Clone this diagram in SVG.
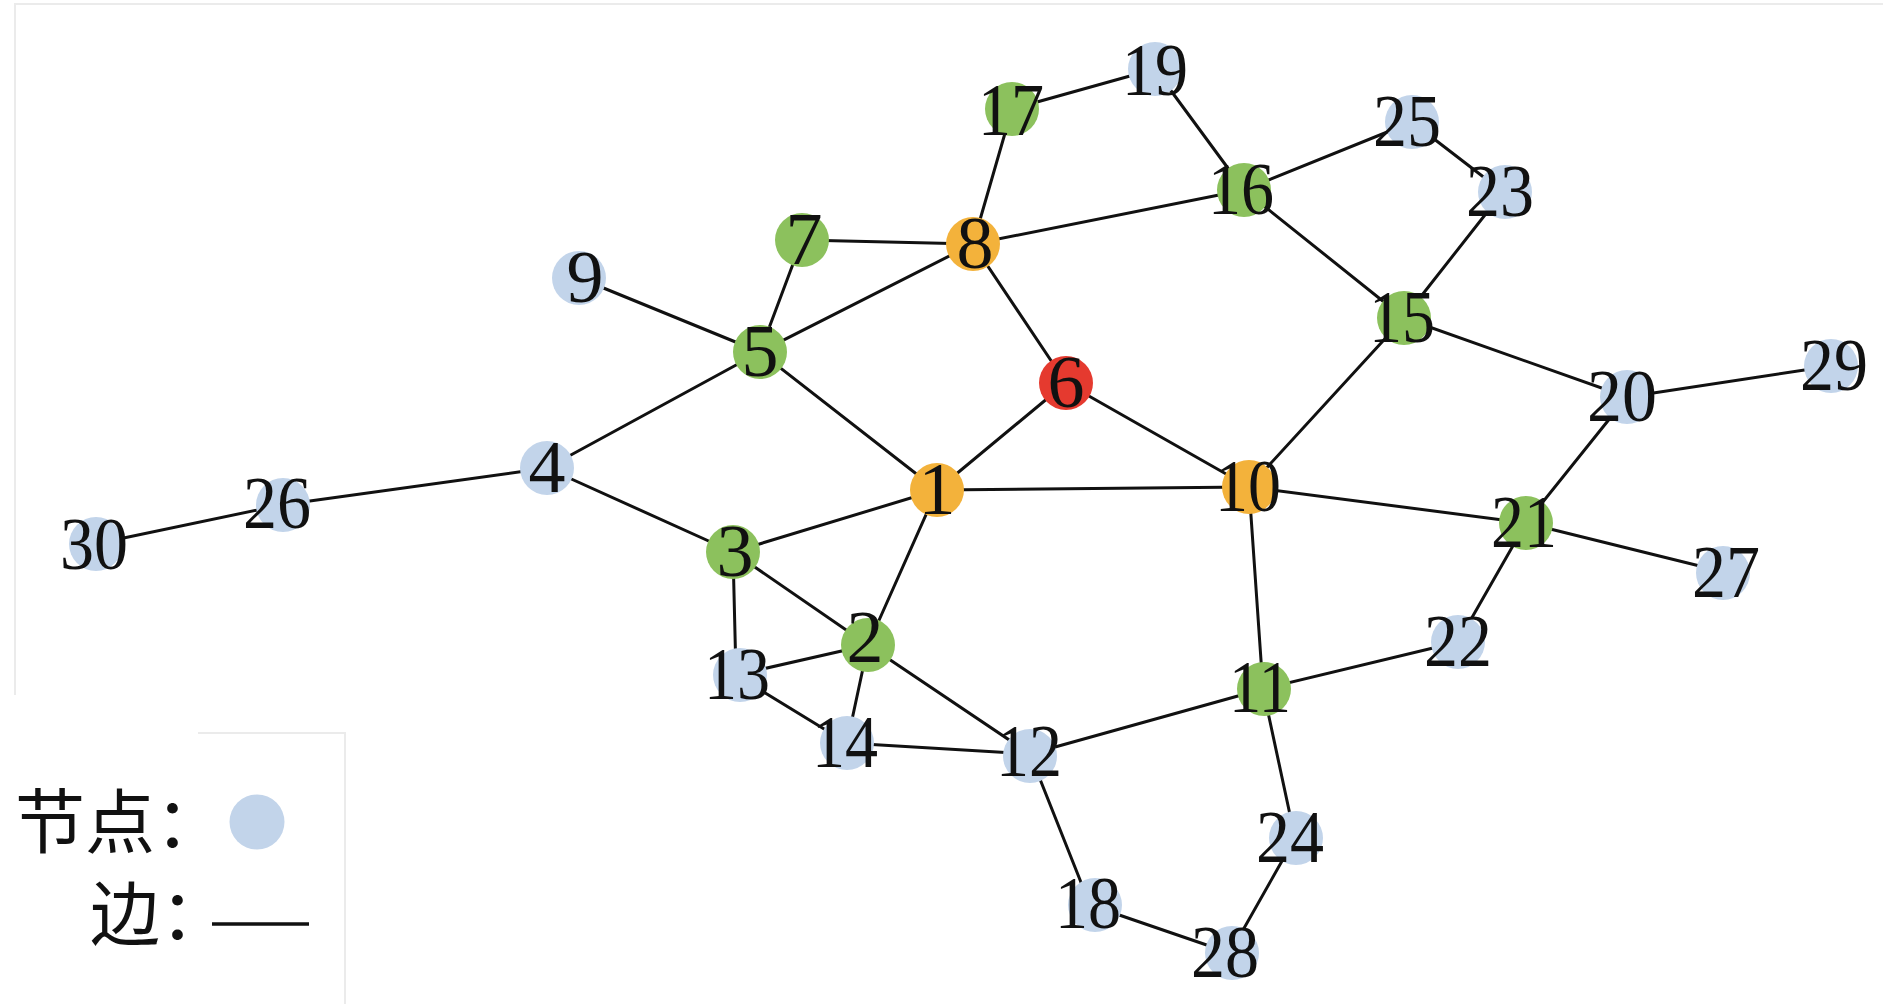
<svg xmlns="http://www.w3.org/2000/svg" width="1883" height="1004" viewBox="0 0 1883 1004">
<style>
.e{stroke:#111;stroke-width:3;fill:none;stroke-linecap:round}
.frame{stroke:#ebebeb;stroke-width:2;fill:none}
.b{fill:#c2d4ea}
.g{fill:#8cc15d}
.o{fill:#f3b23b}
.r{fill:#e53a2f}
.t{font-family:"Liberation Serif","Times New Roman",serif;font-size:74px;fill:#111;text-anchor:middle}
.cn{font-family:"Liberation Serif","Noto Sans CJK SC",serif;font-size:70px;fill:#111}
</style>
<rect x="0" y="0" width="1883" height="1004" fill="#ffffff"/>
<g id="frame">
<path class="frame" d="M15,695 V4 H1883"/>
<path class="frame" d="M198,733 H345 V1004"/>
</g>
<g id="connectors">
<line class="e" x1="1012" y1="109" x2="1155" y2="69"/>
<line class="e" x1="1012" y1="109" x2="973" y2="244"/>
<line class="e" x1="1155" y1="69" x2="1244" y2="190"/>
<line class="e" x1="1244" y1="190" x2="1412" y2="122"/>
<line class="e" x1="1412" y1="122" x2="1503" y2="192"/>
<line class="e" x1="1503" y1="192" x2="1404" y2="318"/>
<line class="e" x1="1244" y1="190" x2="973" y2="244"/>
<line class="e" x1="1244" y1="190" x2="1404" y2="318"/>
<line class="e" x1="802" y1="240" x2="973" y2="244"/>
<line class="e" x1="802" y1="240" x2="760" y2="352"/>
<line class="e" x1="579" y1="278" x2="760" y2="352"/>
<line class="e" x1="973" y1="244" x2="760" y2="352"/>
<line class="e" x1="973" y1="244" x2="1066" y2="383"/>
<line class="e" x1="760" y1="352" x2="547" y2="468"/>
<line class="e" x1="760" y1="352" x2="937" y2="490"/>
<line class="e" x1="1066" y1="383" x2="937" y2="490"/>
<line class="e" x1="1066" y1="383" x2="1249" y2="487"/>
<line class="e" x1="1404" y1="318" x2="1249" y2="487"/>
<line class="e" x1="1404" y1="318" x2="1627" y2="397"/>
<line class="e" x1="1627" y1="397" x2="1831" y2="366"/>
<line class="e" x1="1627" y1="397" x2="1526" y2="523"/>
<line class="e" x1="547" y1="468" x2="281" y2="505"/>
<line class="e" x1="281" y1="505" x2="95" y2="544"/>
<line class="e" x1="547" y1="468" x2="733" y2="552"/>
<line class="e" x1="937" y1="490" x2="1249" y2="487"/>
<line class="e" x1="937" y1="490" x2="733" y2="552"/>
<line class="e" x1="937" y1="490" x2="868" y2="645"/>
<line class="e" x1="1249" y1="487" x2="1526" y2="523"/>
<line class="e" x1="1249" y1="487" x2="1263" y2="689"/>
<line class="e" x1="1526" y1="523" x2="1728" y2="573"/>
<line class="e" x1="1526" y1="523" x2="1458" y2="642"/>
<line class="e" x1="733" y1="552" x2="736" y2="675"/>
<line class="e" x1="733" y1="552" x2="868" y2="645"/>
<line class="e" x1="868" y1="645" x2="736" y2="675"/>
<line class="e" x1="868" y1="645" x2="847" y2="743"/>
<line class="e" x1="868" y1="645" x2="1030" y2="754"/>
<line class="e" x1="736" y1="675" x2="847" y2="743"/>
<line class="e" x1="847" y1="743" x2="1030" y2="754"/>
<line class="e" x1="1030" y1="754" x2="1263" y2="689"/>
<line class="e" x1="1263" y1="689" x2="1458" y2="642"/>
<line class="e" x1="1263" y1="689" x2="1295" y2="838"/>
<line class="e" x1="1030" y1="754" x2="1090" y2="905"/>
<line class="e" x1="1090" y1="905" x2="1230" y2="953"/>
<line class="e" x1="1230" y1="953" x2="1295" y2="838"/>
</g>
<g id="n1"><circle class="o" cx="937" cy="490" r="27"/><text class="t" x="937" y="514">1</text></g>
<g id="n2"><circle class="g" cx="868" cy="645" r="27"/><text class="t" x="865" y="662">2</text></g>
<g id="n3"><circle class="g" cx="733" cy="552" r="27"/><text class="t" x="735" y="576">3</text></g>
<g id="n4"><circle class="b" cx="547" cy="468" r="27"/><text class="t" x="547" y="492">4</text></g>
<g id="n5"><circle class="g" cx="760" cy="352" r="27"/><text class="t" x="760" y="376">5</text></g>
<g id="n6"><circle class="r" cx="1066" cy="383" r="27"/><text class="t" x="1066" y="407">6</text></g>
<g id="n7"><circle class="g" cx="802" cy="240" r="27"/><text class="t" x="804" y="264">7</text></g>
<g id="n8"><circle class="o" cx="973" cy="244" r="27"/><text class="t" x="975" y="268">8</text></g>
<g id="n9"><circle class="b" cx="579" cy="278" r="27"/><text class="t" x="585" y="302">9</text></g>
<g id="n10"><circle class="o" cx="1249" cy="487" r="27"/><text class="t" x="1248" y="511" textLength="66" lengthAdjust="spacingAndGlyphs">10</text></g>
<g id="n11"><circle class="g" cx="1264" cy="689" r="27"/><text class="t" x="1260" y="712" textLength="62" lengthAdjust="spacingAndGlyphs">11</text></g>
<g id="n12"><circle class="b" cx="1030" cy="756" r="27"/><text class="t" x="1029" y="776" textLength="66" lengthAdjust="spacingAndGlyphs">12</text></g>
<g id="n13"><circle class="b" cx="740" cy="675" r="27"/><text class="t" x="737" y="699" textLength="66" lengthAdjust="spacingAndGlyphs">13</text></g>
<g id="n14"><circle class="b" cx="847" cy="743" r="27"/><text class="t" x="845" y="767" textLength="66" lengthAdjust="spacingAndGlyphs">14</text></g>
<g id="n15"><circle class="g" cx="1404" cy="318" r="27"/><text class="t" x="1402" y="342" textLength="66" lengthAdjust="spacingAndGlyphs">15</text></g>
<g id="n16"><circle class="g" cx="1244" cy="190" r="27"/><text class="t" x="1241" y="214" textLength="66" lengthAdjust="spacingAndGlyphs">16</text></g>
<g id="n17"><circle class="g" cx="1012" cy="109" r="27"/><text class="t" x="1011" y="135" textLength="66" lengthAdjust="spacingAndGlyphs">17</text></g>
<g id="n18"><circle class="b" cx="1095" cy="905" r="27"/><text class="t" x="1088" y="928" textLength="66" lengthAdjust="spacingAndGlyphs">18</text></g>
<g id="n19"><circle class="b" cx="1155" cy="69" r="27"/><text class="t" x="1155" y="95" textLength="66" lengthAdjust="spacingAndGlyphs">19</text></g>
<g id="n20"><circle class="b" cx="1627" cy="397" r="27"/><text class="t" x="1622" y="421" textLength="70" lengthAdjust="spacingAndGlyphs">20</text></g>
<g id="n21"><circle class="g" cx="1526" cy="523" r="27"/><text class="t" x="1524" y="547" textLength="66" lengthAdjust="spacingAndGlyphs">21</text></g>
<g id="n22"><circle class="b" cx="1458" cy="642" r="27"/><text class="t" x="1458" y="666" textLength="68" lengthAdjust="spacingAndGlyphs">22</text></g>
<g id="n23"><circle class="b" cx="1505" cy="192" r="27"/><text class="t" x="1500" y="216" textLength="68" lengthAdjust="spacingAndGlyphs">23</text></g>
<g id="n24"><circle class="b" cx="1296" cy="838" r="27"/><text class="t" x="1290" y="862" textLength="68" lengthAdjust="spacingAndGlyphs">24</text></g>
<g id="n25"><circle class="b" cx="1412" cy="122" r="27"/><text class="t" x="1407" y="146" textLength="68" lengthAdjust="spacingAndGlyphs">25</text></g>
<g id="n26"><circle class="b" cx="283" cy="505" r="27"/><text class="t" x="277" y="528" textLength="68" lengthAdjust="spacingAndGlyphs">26</text></g>
<g id="n27"><circle class="b" cx="1723" cy="573" r="27"/><text class="t" x="1726" y="597" textLength="68" lengthAdjust="spacingAndGlyphs">27</text></g>
<g id="n28"><circle class="b" cx="1232" cy="953" r="27"/><text class="t" x="1225" y="977" textLength="68" lengthAdjust="spacingAndGlyphs">28</text></g>
<g id="n29"><circle class="b" cx="1831" cy="366" r="27"/><text class="t" x="1834" y="390" textLength="68" lengthAdjust="spacingAndGlyphs">29</text></g>
<g id="n30"><circle class="b" cx="96" cy="544" r="27"/><text class="t" x="94" y="569" textLength="68" lengthAdjust="spacingAndGlyphs">30</text></g>
<g id="legend">
<text class="cn" x="15" y="848">节点：</text>
<circle class="b" cx="257" cy="822" r="27.5"/>
<text class="cn" x="90" y="940">边：</text>
<line x1="212" y1="924" x2="309" y2="924" stroke="#111" stroke-width="3.5"/>
</g>
</svg>
